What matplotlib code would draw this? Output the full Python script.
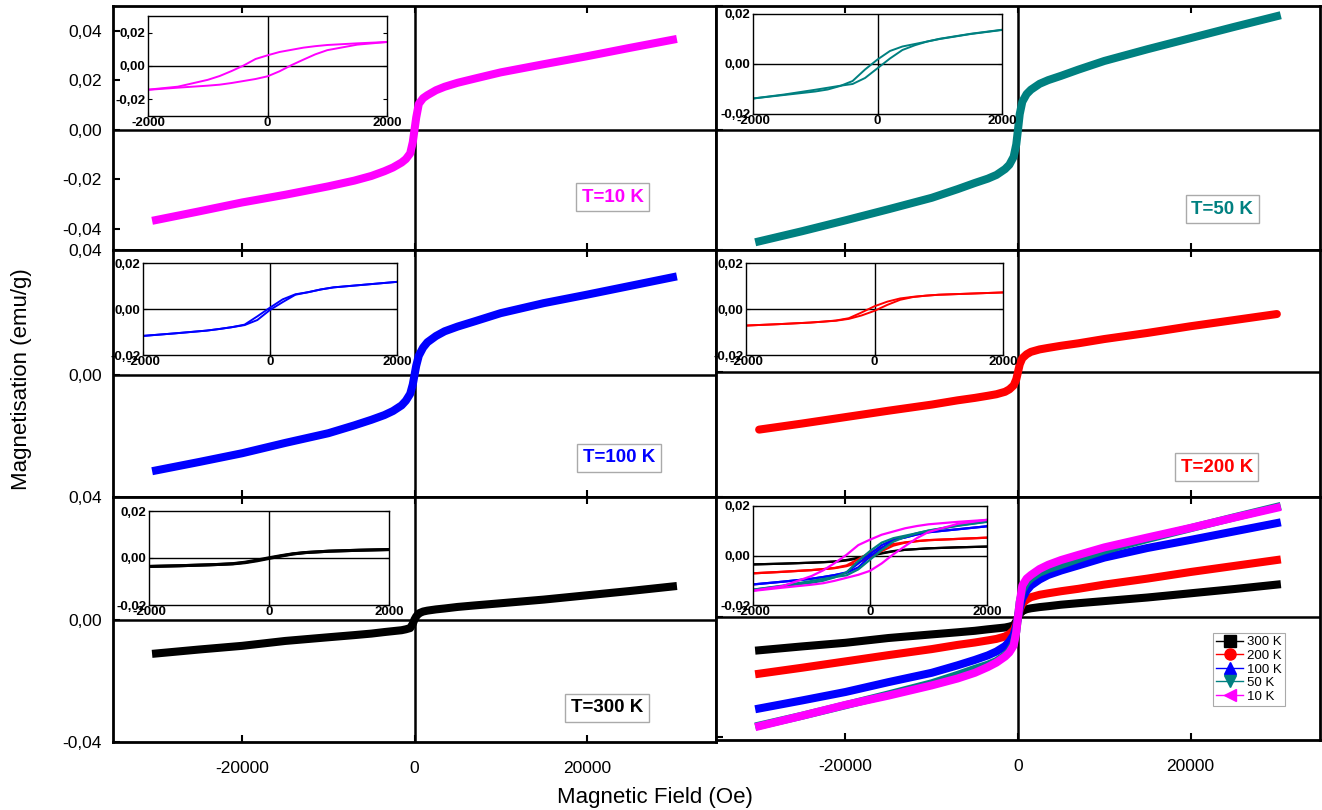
import matplotlib
matplotlib.use('Agg')
import matplotlib.pyplot as plt
from matplotlib.lines import Line2D
from matplotlib.ticker import FuncFormatter

plt.rcParams['font.family'] = ['Liberation Sans', 'DejaVu Sans']
plt.rcParams['axes.unicode_minus'] = False

# ---- main loops (field in Oe, magnetisation in emu/g) ----
H = [-30000, -25000, -20000, -15000, -10000, -7000, -5000, -3500, -2500, -1500, -1000, -500, -200, 0,
     200, 500, 1000, 1500, 2500, 3500, 5000, 7000, 10000, 15000, 20000, 25000, 30000]
M_10K = [-0.0364, -0.0329, -0.0293, -0.0262, -0.0228, -0.0205, -0.0186, -0.0167, -0.0152, -0.0132,
         -0.0118, -0.0095, -0.0050, 0.0,
         0.0050, 0.0105, 0.0128, 0.0140, 0.0160, 0.0174, 0.0190, 0.0207, 0.0232, 0.0265, 0.0297,
         0.0331, 0.0364]
M_50K = [-0.0362, -0.0329, -0.0294, -0.0258, -0.0221, -0.0193, -0.0173, -0.0159, -0.0147, -0.0128,
         -0.0114, -0.0088, -0.0048, 0.0,
         0.0050, 0.0090, 0.0115, 0.0129, 0.0148, 0.0160, 0.0174, 0.0194, 0.0222, 0.0260, 0.0296,
         0.0332, 0.0367]
M_100K = [-0.0305, -0.0278, -0.0250, -0.0217, -0.0186, -0.0161, -0.0143, -0.0128, -0.0115, -0.0097,
          -0.0082, -0.0060, -0.0030, 0.0,
          0.0030, 0.0062, 0.0088, 0.0105, 0.0125, 0.0140, 0.0155, 0.0172, 0.0198, 0.0230, 0.0257,
          0.0285, 0.0313]
M_200K = [-0.0189, -0.0169, -0.0148, -0.0127, -0.0107, -0.0093, -0.0085, -0.0078, -0.0073, -0.0065,
          -0.0057, -0.0044, -0.0024, 0.0,
          0.0025, 0.0045, 0.0058, 0.0066, 0.0074, 0.0079, 0.0086, 0.0094, 0.0108, 0.0128, 0.0150,
          0.0170, 0.0190]
M_300K = [-0.0111, -0.0098, -0.0086, -0.0070, -0.0058, -0.0051, -0.0046, -0.0041, -0.0038, -0.0035,
          -0.0032, -0.0028, -0.0014, 0.0,
          0.0010, 0.0020, 0.0026, 0.0029, 0.0033, 0.0036, 0.0041, 0.0046, 0.0053, 0.0065, 0.0079,
          0.0093, 0.0108]

# ---- low field loops for the insets (descending / ascending branch) ----
h_in = [-2000, -1500, -1000, -800, -600, -400, -200, 0, 200, 400, 600, 800, 1000, 1500, 2000]
m10_down = [-0.0142, -0.0124, -0.0083, -0.0060, -0.0030, 0.0003, 0.0042, 0.0064, 0.0084, 0.0097,
            0.0110, 0.0119, 0.0126, 0.0136, 0.0144]
m10_up = [-0.0143, -0.0130, -0.0118, -0.0112, -0.0102, -0.0090, -0.0078, -0.0062, -0.0032, 0.0005,
          0.0038, 0.0070, 0.0095, 0.0128, 0.0144]
m50_down = [-0.0138, -0.0124, -0.0110, -0.0102, -0.0088, -0.0068, -0.0022, 0.0018, 0.0052, 0.0070,
            0.0080, 0.0090, 0.0100, 0.0120, 0.0136]
m50_up = [-0.0138, -0.0122, -0.0103, -0.0095, -0.0087, -0.0080, -0.0056, -0.0017, 0.0022, 0.0056,
          0.0075, 0.0090, 0.0101, 0.0121, 0.0137]
m100_down = [-0.0117, -0.0106, -0.0094, -0.0087, -0.0079, -0.0068, -0.0032, 0.0006, 0.0042, 0.0064,
             0.0073, 0.0085, 0.0094, 0.0106, 0.0118]
m100_up = [-0.0117, -0.0106, -0.0094, -0.0087, -0.0079, -0.0070, -0.0048, -0.0004, 0.0030, 0.0062,
           0.0073, 0.0085, 0.0094, 0.0106, 0.0118]
m200_down = [-0.0072, -0.0066, -0.0059, -0.0055, -0.0050, -0.0040, -0.0015, 0.0012, 0.0032, 0.0046,
             0.0053, 0.0058, 0.0062, 0.0067, 0.0072]
m200_up = [-0.0072, -0.0066, -0.0059, -0.0055, -0.0051, -0.0043, -0.0028, -0.0008, 0.0018, 0.0040,
           0.0052, 0.0058, 0.0062, 0.0067, 0.0072]
m300_down = [-0.0036, -0.0033, -0.0029, -0.0027, -0.0024, -0.0018, -0.0009, 0.0001, 0.0010, 0.0018,
             0.0023, 0.0026, 0.0029, 0.0033, 0.0036]
m300_up = [-0.0036, -0.0033, -0.0029, -0.0027, -0.0025, -0.0020, -0.0012, -0.0002, 0.0008, 0.0017,
           0.0023, 0.0026, 0.0029, 0.0033, 0.0036]

temps = ['300 K', '200 K', '100 K', '50 K', '10 K']
colors = ['black', '#ff0000', '#0000ff', '#008080', '#ff00ff']
markers = ['s', 'o', '^', 'v', '<']
M_all = [M_300K, M_200K, M_100K, M_50K, M_10K]
down_all = [m300_down, m200_down, m100_down, m50_down, m10_down]
up_all = [m300_up, m200_up, m100_up, m50_up, m10_up]

W, Hpx = 1322, 810
fig = plt.figure(figsize=(W / 100, Hpx / 100), dpi=100)


def rect(x0, y0, x1, y1):
    return [x0 / W, (Hpx - y1) / Hpx, (x1 - x0) / W, (y1 - y0) / Hpx]


comma = FuncFormatter(lambda v, p: ('%.2f' % v).replace('.', ','))


def main_axes(r, ylim, yticks, left_col, bottom_row):
    ax = fig.add_axes(r)
    ax.set_xlim(-35000, 35000)
    ax.set_ylim(*ylim)
    ax.set_xticks([-20000, 0, 20000])
    ax.set_yticks(yticks)
    ax.yaxis.set_major_formatter(comma)
    ax.tick_params(direction='in', length=5, width=1.5, top=True, labelsize=12.5)
    ax.tick_params(axis='x', pad=14)
    ax.tick_params(axis='y', pad=8)
    if not left_col:
        ax.tick_params(labelleft=False)
    if not bottom_row:
        ax.tick_params(labelbottom=False)
    for s in ax.spines.values():
        s.set_linewidth(2)
    ax.axhline(0, color='black', lw=1.8, zorder=1)
    ax.axvline(0, color='black', lw=1.8, zorder=1)
    return ax


def inset(r, ylim, yticks):
    ax = fig.add_axes(r)
    ax.set_xlim(-2000, 2000)
    ax.set_ylim(*ylim)
    ax.set_xticks([-2000, 0, 2000])
    ax.set_yticks(yticks)
    ax.yaxis.set_major_formatter(comma)
    ax.tick_params(direction='in', length=3, width=0.8, right=True, labelsize=9.5)
    ax.tick_params(axis='x', pad=1)
    ax.tick_params(axis='y', pad=2)
    for lab in ax.get_xticklabels() + ax.get_yticklabels():
        lab.set_fontweight('bold')
    for s in ax.spines.values():
        s.set_linewidth(1)
    ax.axhline(0, color='black', lw=1)
    ax.axvline(0, color='black', lw=1)
    return ax


def tag(ax, x, y, text, color):
    ax.text(x, y, text, transform=ax.transAxes, color=color, fontsize=13.5,
            fontweight='bold', ha='center', va='center',
            bbox=dict(boxstyle='square,pad=0.3', fc='white', ec='#aaaaaa', lw=1))


# single temperature panels: (index, main rect, ylim, yticks, left, bottom, tag pos, tag, inset rect, inset ylim)
panels = [
    (4, rect(113, 6, 716, 250), (-0.0485, 0.050), [-0.04, -0.02, 0, 0.02, 0.04], True, False,
     (0.829, 0.217), 'T=10 K', rect(148, 16, 387, 116), (-0.03, 0.03)),
    (3, rect(716, 6, 1320, 250), (-0.039, 0.040), [0, 0.04], False, False,
     (0.838, 0.168), 'T=50 K', rect(753, 14, 1002, 114), (-0.02, 0.02)),
    (2, rect(113, 250, 716, 497), (-0.039, 0.040), [0, 0.04], True, False,
     (0.839, 0.158), 'T=100 K', rect(143, 263, 397, 355), (-0.02, 0.02)),
    (1, rect(716, 250, 1320, 497), (-0.041, 0.040), [0, 0.04], False, False,
     (0.829, 0.121), 'T=200 K', rect(746, 263, 1003, 355), (-0.02, 0.02)),
    (0, rect(113, 497, 716, 742), (-0.040, 0.040), [-0.04, 0, 0.04], True, True,
     (0.819, 0.139), 'T=300 K', rect(149, 511, 389, 605), (-0.02, 0.02)),
]

for i, r, ylim, yt, left, bottom, tpos, ttext, ir, iylim in panels:
    ax = main_axes(r, ylim, yt, left, bottom)
    cap = 'round' if i == 1 else 'projecting'
    ax.plot(H, M_all[i], color=colors[i], lw=5.8, solid_capstyle=cap, solid_joinstyle='round',
            zorder=3)
    tag(ax, tpos[0], tpos[1], ttext, colors[i])
    axi = inset(ir, iylim, [-0.02, 0, 0.02])
    lw_in = 2.2 if i == 0 else 1.4
    axi.plot(h_in, down_all[i], color=colors[i], lw=lw_in)
    axi.plot(h_in, up_all[i], color=colors[i], lw=lw_in)

# combined panel
ax = main_axes(rect(716, 497, 1320, 740), (-0.041, 0.040), [-0.04, 0, 0.04], False, True)
for i in range(5):
    ax.plot(H, M_all[i], color=colors[i], lw=5.8, solid_capstyle='projecting',
            solid_joinstyle='round', zorder=3)
handles = [Line2D([0], [0], color=colors[i], marker=markers[i], markersize=8, lw=1)
           for i in range(5)]
leg = ax.legend(handles, temps, loc='upper left', bbox_to_anchor=(0.812, 0.468), fontsize=9.5,
                frameon=True, fancybox=False, edgecolor='#aaaaaa', framealpha=1,
                borderpad=0.25, labelspacing=0.1, handlelength=2.0, handletextpad=0.3)
leg.get_frame().set_linewidth(0.8)

axi = inset(rect(753, 506, 987, 605), (-0.02, 0.02), [-0.02, 0, 0.02])
for i in range(5):
    axi.plot(h_in, down_all[i], color=colors[i], lw=1.6)
    axi.plot(h_in, up_all[i], color=colors[i], lw=1.6)

fig.text(0.0166, 0.532, 'Magnetisation (emu/g)', rotation=90, ha='center', va='center', fontsize=16)
fig.text(0.4955, 0.016, 'Magnetic Field (Oe)', ha='center', va='center', fontsize=16)

plt.savefig('out.png', dpi=100)
